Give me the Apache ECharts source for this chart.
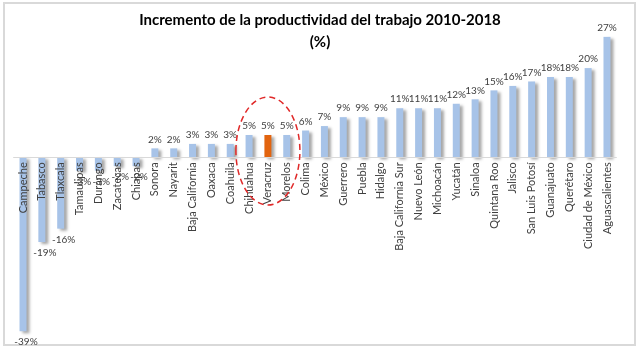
<!DOCTYPE html>
<html>
<head>
<meta charset="utf-8">
<script src="https://cdn.jsdelivr.net/npm/echarts@6/dist/echarts.min.js"></script>
<style>html,body{margin:0;padding:0;background:#fff;}#c{width:640px;height:350px;}</style>
</head>
<body>
<div id="c"></div>
<script>
var categories = ["Campeche","Tabasco","Tlaxcala","Tamaulipas","Durango","Zacatecas","Chiapas","Sonora","Nayarit","Baja California","Oaxaca","Coahuila","Chihuahua","Veracruz","Morelos","Colima","México","Guerrero","Puebla","Hidalgo","Baja California Sur","Nuevo León","Michoacán","Yucatán","Sinaloa","Quintana Roo","Jalisco","San Luis Potosí","Guanajuato","Querétaro","Ciudad de México","Aguascalientes"];
var values = [-39,-19,-16,-3,-3,-2,-2,2,2,3,3,3,5,5,5,6,7,9,9,9,11,11,11,12,13,15,16,17,18,18,20,27];
var highlight = "Veracruz";
var titleText = "Incremento de la productividad del trabajo 2010-2018\n(%)";
var yMin = -40, yMax = 28;

var chart = echarts.init(document.getElementById('c'));
var gridTop = 32.4, gridBottom = 14.3, H = 350;
var plotH = H - gridTop - gridBottom;
var zeroFromBottom = plotH * (0 - yMin) / (yMax - yMin);

var data = values.map(function (v, i) {
  var item = { value: v, itemStyle: { color: categories[i] === highlight ? '#E2640F' : '#A7C3E8' } };
  if (v < 0) item.label = { position: 'bottom', offset: [3, 2] };
  return item;
});
chart.setOption({
  animation: false,
  title: {
    text: titleText, left: 'center', top: 4,
    textStyle: { fontFamily: 'Lato', fontWeight: 'bold', fontSize: 15, color: '#000', lineHeight: 22 }
  },
  grid: { left: 13.6, right: 23.6, top: gridTop, bottom: gridBottom, containLabel: false, outerBoundsMode: 'none' },
  xAxis: {
    type: 'category', data: categories, position: 'bottom', offset: -zeroFromBottom, z: 10,
    axisLine: { onZero: false, lineStyle: { color: '#d9d9d9', width: 1 } },
    axisTick: { show: false },
    axisLabel: { rotate: 90, interval: 0, margin: 5, fontFamily: 'Lato', fontSize: 11, color: '#404040' }
  },
  yAxis: { type: 'value', min: yMin, max: yMax, show: false, splitLine: { show: false } },
  series: [{
    type: 'bar', data: data, barWidth: 7, z: 2,
    itemStyle: { shadowColor: 'rgba(0,0,0,0.35)', shadowOffsetX: 3, shadowOffsetY: 2, shadowBlur: 3 },
    label: {
      show: true, position: 'top', distance: 4,
      formatter: function (p) { return Math.round(p.value) + '%'; },
      fontFamily: 'Lato', fontSize: 10, color: '#404040'
    }
  }]
});
var idx = categories.indexOf(highlight);
var c = chart.convertToPixel({ seriesIndex: 0 }, [idx, 1.4]);
chart.setOption({
  graphic: [
    { type: 'rect', shape: { x: 4, y: 3, width: 631, height: 342 }, style: { fill: 'none', stroke: '#d9d9d9', lineWidth: 2 }, silent: true },
    { type: 'ellipse', shape: { cx: c[0], cy: c[1], rx: 32, ry: 54 }, style: { fill: 'none', stroke: '#E02828', lineWidth: 1.5, lineDash: [6, 4] }, silent: true, z: 100 }
  ]
});
</script>
</body>
</html>
